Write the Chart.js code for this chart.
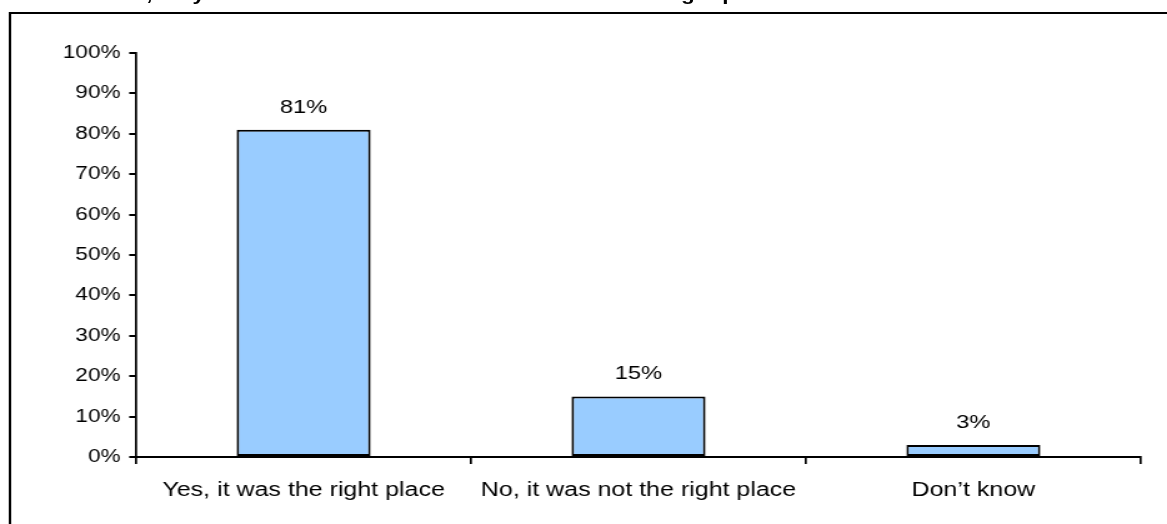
<!DOCTYPE html>
<html>
<head>
<meta charset="utf-8">
<script src="https://cdn.jsdelivr.net/npm/chart.js@4/dist/chart.umd.min.js"></script>
<style>
  html, body { margin: 0; padding: 0; background: #fff; overflow: hidden; }
  #stage { position: absolute; left: 0; top: 0; width: 934px; height: 524px; transform: scaleX(1.2495); transform-origin: 0 0; overflow: hidden; }
  #title { position: absolute; left: 56px; top: -15px; font: bold 18px "Liberation Sans", Arial, sans-serif; line-height: 18px; white-space: nowrap; color: #000; }
  #frame { position: absolute; left: 7px; top: 12px; width: 1000px; height: 600px; border: 2px solid #000; box-sizing: border-box; }
  #wrap { position: absolute; left: 0; top: 0; width: 934px; height: 524px; }
</style>
</head>
<body>
<div id="stage">
  <div id="title">Overall, do you think that the Treatment Centre was the right place?</div>
  <div id="frame"></div>
  <div id="wrap"><canvas id="c"></canvas></div>
</div>
<script>
const categories = ["Yes, it was the right place", "No, it was not the right place", "Don\u2019t know"];
const values = [81, 15, 3];
const yMin = 0, yMax = 100, yStep = 10;

const FONT = '"Liberation Sans", Arial, sans-serif';

const valueLabels = {
  id: 'valueLabels',
  afterDatasetsDraw(chart) {
    const ctx = chart.ctx;
    const meta = chart.getDatasetMeta(0);
    ctx.save();
    ctx.font = '19px ' + FONT;
    ctx.fillStyle = '#000';
    ctx.textAlign = 'center';
    ctx.textBaseline = 'alphabetic';
    meta.data.forEach((bar, i) => {
      ctx.fillText(values[i] + '%', bar.x, bar.y - 17);
    });
    ctx.restore();
  }
};

new Chart(document.getElementById('c'), {
  type: 'bar',
  data: {
    labels: categories,
    datasets: [{
      data: values,
      backgroundColor: '#99CCFF',
      borderColor: '#000',
      borderWidth: 2,
      borderSkipped: false,
      categoryPercentage: 1.0,
      barPercentage: 0.4
    }]
  },
  options: {
    responsive: true,
    maintainAspectRatio: false,
    animation: false,
    layout: { padding: { left: 0, top: 53, right: 21, bottom: 17 } },
    plugins: { legend: { display: false }, tooltip: { enabled: false }, title: { display: false } },
    scales: {
      x: {
        offset: true,
        grid: { display: true, drawOnChartArea: false, drawTicks: true, offset: true, tickLength: 7, color: '#000', lineWidth: 1.7 },
        border: { display: true, color: '#000', width: 2 },
        ticks: { color: '#000', font: { family: FONT, size: 20 }, padding: 14, maxRotation: 0, autoSkip: false },
        afterFit(scale) { scale.height = 50; }
      },
      y: {
        min: yMin, max: yMax,
        grid: { display: true, drawOnChartArea: false, drawTicks: true, tickLength: 5.6, color: '#000', lineWidth: 2 },
        border: { display: true, color: '#000', width: 1.7 },
        ticks: { stepSize: yStep, color: '#000', font: { family: FONT, size: 18 }, padding: 7, callback: v => v + '%' },
        afterFit(scale) { scale.width = 109; }
      }
    }
  },
  plugins: [valueLabels]
});
</script>
</body>
</html>
